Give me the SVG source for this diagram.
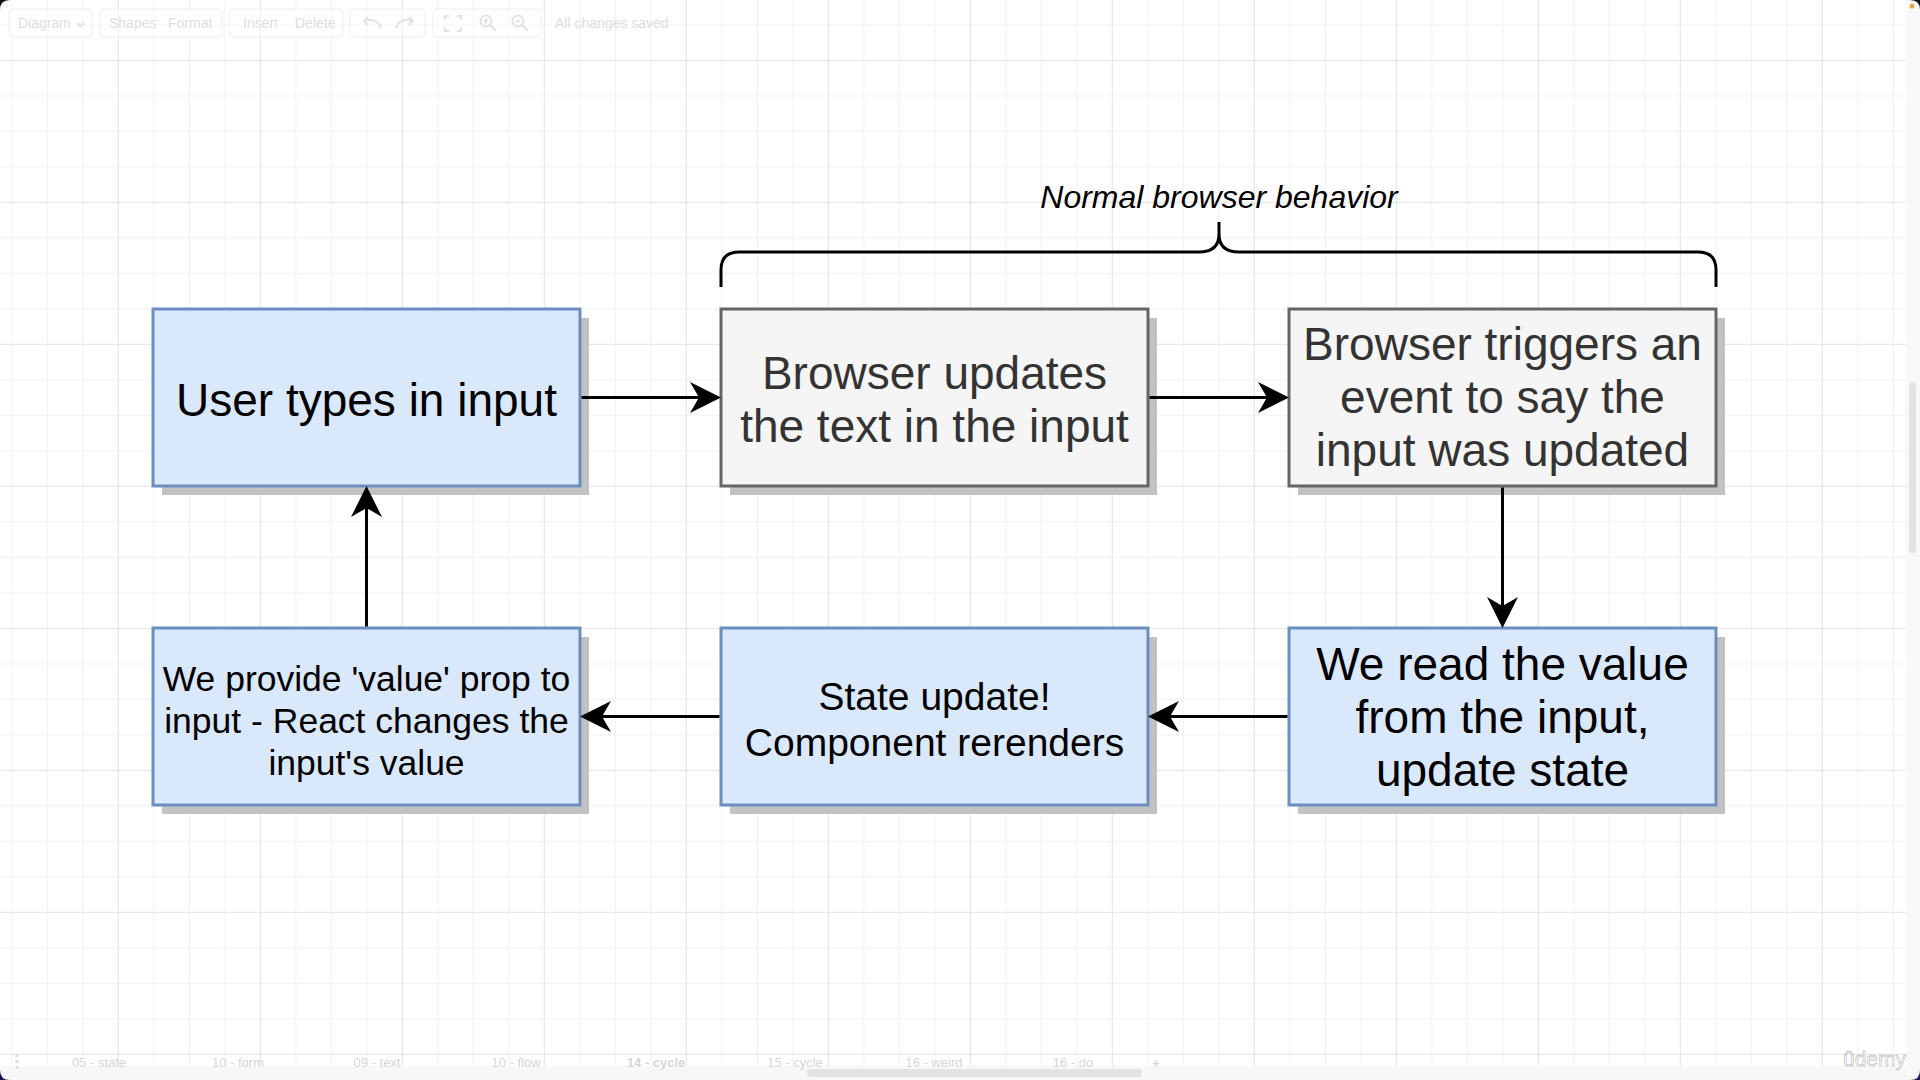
<svg xmlns="http://www.w3.org/2000/svg" width="1920" height="1080" viewBox="0 0 1920 1080">
<style>
.box-blue{fill:#dae8fc;stroke:#6c8ebf;stroke-width:3}
.box-gray{fill:#f5f5f5;stroke:#666666;stroke-width:3}
.shadow{fill:#c2c2c2}
.lbl{font-family:"Liberation Sans",Arial,Helvetica,sans-serif;text-anchor:middle}
.dark{fill:#000000}
.grayt{fill:#333333}
.edge{fill:none;stroke:#000000;stroke-width:3}
.ui{font-family:"Liberation Sans",Arial,Helvetica,sans-serif;font-size:14px;fill:#dedede}
.tab{font-family:"Liberation Sans",Arial,Helvetica,sans-serif;font-size:13px;fill:#d6d6d6;text-anchor:middle}
.tbgrp{fill:#ffffff;fill-opacity:0.45;stroke:#eeeeee;stroke-width:1}
.icon{fill:none;stroke:#e2e2e2;stroke-width:2}
</style>
<defs>
<pattern id="grid" x="117.8" y="59.8" width="142" height="142" patternUnits="userSpaceOnUse">
<rect x="35.5" y="0" width="1" height="142" fill="#f1f1f1"/>
<rect x="71" y="0" width="1" height="142" fill="#f1f1f1"/>
<rect x="106.5" y="0" width="1" height="142" fill="#f1f1f1"/>
<rect x="0" y="35.5" width="142" height="1" fill="#f1f1f1"/>
<rect x="0" y="71" width="142" height="1" fill="#f1f1f1"/>
<rect x="0" y="106.5" width="142" height="1" fill="#f1f1f1"/>
<rect x="0" y="0" width="1" height="142" fill="#e2e2e2"/>
<rect x="0" y="0" width="142" height="1" fill="#e2e2e2"/>
</pattern>
<marker id="arr" viewBox="0 0 31 31" refX="9" refY="15.5" markerWidth="31" markerHeight="31" markerUnits="userSpaceOnUse" orient="auto">
<path d="M0,0 L31,15.5 L0,31 L9,15.5 Z" fill="#000000"/>
</marker>
</defs>

<!-- background & grid -->
<rect x="0" y="0" width="1920" height="1080" fill="#ffffff"/>
<rect x="0" y="0" width="1906" height="1066" fill="url(#grid)"/>

<!-- right scroll strip -->
<rect x="1906" y="0" width="14" height="1080" fill="#f8f8f8"/>
<rect x="1909" y="382" width="7" height="171" rx="3.5" fill="#e2e2e2"/>
<!-- bottom strip -->
<rect x="0" y="1066" width="1906" height="14" fill="#f7f7f7"/>
<rect x="807" y="1069" width="335" height="8" rx="4" fill="#e3e3e3"/>

<!-- toolbar -->
<g id="toolbar">
<rect class="tbgrp" x="9" y="9" width="83" height="28" rx="4"/>
<rect class="tbgrp" x="100" y="9" width="122" height="28" rx="4"/>
<rect class="tbgrp" x="229" y="9" width="114" height="28" rx="4"/>
<rect class="tbgrp" x="350" y="9" width="75" height="28" rx="4"/>
<rect class="tbgrp" x="433" y="9" width="108" height="28" rx="4"/>
<text class="ui" x="18" y="28">Diagram</text>
<path class="icon" d="M77,23 L80.5,26.5 L84,23" stroke-width="1.3"/>
<text class="ui" x="109" y="28">Shapes</text>
<text class="ui" x="168" y="28">Format</text>
<text class="ui" x="243" y="28">Insert</text>
<text class="ui" x="295" y="28" fill="#f4f4f4">Delete</text>
<path class="icon" d="M381,28 Q378,19 369,20 L364,21 M364,21 L368,17 M364,21 L368,25"/>
<path class="icon" d="M396,28 Q399,19 408,20 L413,21 M413,21 L409,17 M413,21 L409,25" stroke="#f2f2f2"/>
<path class="icon" d="M445,20 V16 H449 M457,16 H461 V20 M445,27 V31 H449 M457,31 H461 V27"/>
<circle class="icon" cx="486" cy="21" r="5.5"/>
<path class="icon" d="M490,25 L496,31 M483.5,21 H488.5 M486,18.5 V23.5"/>
<circle class="icon" cx="518" cy="21" r="5.5"/>
<path class="icon" d="M522,25 L528,31 M515.5,21 H520.5"/>
<text class="ui" x="555" y="28">All changes saved</text>
</g>

<!-- bottom tabs -->
<g id="tabs">
<rect x="15.5" y="1054" width="3" height="3" fill="#dedede"/>
<rect x="15.5" y="1060" width="3" height="3" fill="#dedede"/>
<rect x="15.5" y="1066" width="3" height="3" fill="#dedede"/>
<text class="tab" x="99" y="1067">05 - state</text>
<text class="tab" x="238" y="1067">10 - form</text>
<text class="tab" x="377" y="1067">09 - text</text>
<text class="tab" x="516" y="1067">10 - flow</text>
<text class="tab" x="656" y="1067" font-weight="bold" fill="#c4c4c4">14 - cycle</text>
<text class="tab" x="795" y="1067">15 - cycle</text>
<text class="tab" x="934" y="1067">16 - weird</text>
<text class="tab" x="1073" y="1067">16 - do</text>
<text class="tab" x="1156" y="1068" font-size="18px" font-weight="bold">+</text>
</g>

<!-- watermark -->
<text x="1843" y="1066" font-family="'Liberation Sans',Arial,sans-serif" font-size="21px" fill="#ffffff" stroke="#c8c8c8" stroke-width="0.8">ûdemy</text>

<!-- window corners -->
<path d="M0,0 H10 Q0,0 0,10 Z" fill="#111111"/>
<path d="M1920,0 H1910 Q1920,0 1920,10 Z" fill="#111111"/>
<circle cx="1912" cy="6" r="2.5" fill="#e8a24a"/>
<path d="M0,1080 H10 Q0,1080 0,1070 Z" fill="#1c1452"/>
<path d="M1920,1080 H1910 Q1920,1080 1920,1070 Z" fill="#2a1a66"/>

<!-- brace and title -->
<g id="brace">
<path class="edge" d="M721,287 V270 Q721,252 739,252 H1199 Q1219,252 1219,234 V222 M1219,234 Q1219,252 1239,252 H1698 Q1716,252 1716,270 V287"/>
<text class="lbl dark" x="1219" y="208" font-size="32px" font-style="italic">Normal browser behavior</text>
</g>

<!-- nodes -->
<g id="node-user-types">
<rect class="shadow" x="162" y="318" width="427" height="177"/>
<rect class="box-blue" x="153" y="309" width="427" height="177"/>
<text class="lbl dark" x="366.5" y="416" font-size="46px">User types in input</text>
</g>

<g id="node-browser-updates">
<rect class="shadow" x="730" y="318" width="427" height="177"/>
<rect class="box-gray" x="721" y="309" width="427" height="177"/>
<text class="lbl grayt" font-size="46px"><tspan x="934.5" y="389">Browser updates</tspan><tspan x="934.5" y="442">the text in the input</tspan></text>
</g>

<g id="node-browser-triggers">
<rect class="shadow" x="1298" y="318" width="427" height="177"/>
<rect class="box-gray" x="1289" y="309" width="427" height="177"/>
<text class="lbl grayt" font-size="46px"><tspan x="1502.5" y="360">Browser triggers an</tspan><tspan x="1502.5" y="413">event to say the</tspan><tspan x="1502.5" y="466">input was updated</tspan></text>
</g>

<g id="node-read-value">
<rect class="shadow" x="1298" y="637" width="427" height="177"/>
<rect class="box-blue" x="1289" y="628" width="427" height="177"/>
<text class="lbl dark" font-size="46px"><tspan x="1502.5" y="680">We read the value</tspan><tspan x="1502.5" y="733">from the input,</tspan><tspan x="1502.5" y="786">update state</tspan></text>
</g>

<g id="node-state-update">
<rect class="shadow" x="730" y="637" width="427" height="177"/>
<rect class="box-blue" x="721" y="628" width="427" height="177"/>
<text class="lbl dark" font-size="39px"><tspan x="934.5" y="710">State update!</tspan><tspan x="934.5" y="756">Component rerenders</tspan></text>
</g>

<g id="node-provide-value">
<rect class="shadow" x="162" y="637" width="427" height="177"/>
<rect class="box-blue" x="153" y="628" width="427" height="177"/>
<text class="lbl dark" font-size="35.5px"><tspan x="366.5" y="691">We provide 'value' prop to</tspan><tspan x="366.5" y="733">input - React changes the</tspan><tspan x="366.5" y="775">input's value</tspan></text>
</g>

<!-- connectors -->
<g id="connectors">
<line class="edge" x1="581.5" y1="397.5" x2="699" y2="397.5" marker-end="url(#arr)"/>
<line class="edge" x1="1149.5" y1="397.5" x2="1267" y2="397.5" marker-end="url(#arr)"/>
<line class="edge" x1="1502.5" y1="487.5" x2="1502.5" y2="606" marker-end="url(#arr)"/>
<line class="edge" x1="1287.5" y1="716.5" x2="1170" y2="716.5" marker-end="url(#arr)"/>
<line class="edge" x1="719.5" y1="716.5" x2="602" y2="716.5" marker-end="url(#arr)"/>
<line class="edge" x1="366.5" y1="626.5" x2="366.5" y2="508" marker-end="url(#arr)"/>
</g>
</svg>
